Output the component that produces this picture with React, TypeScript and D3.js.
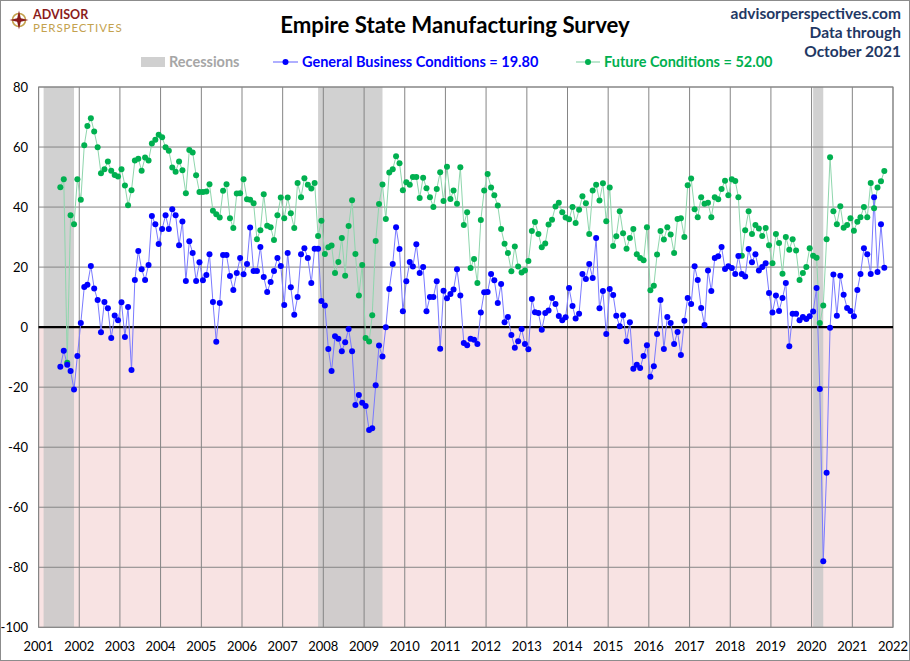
import React from 'react';
import * as d3 from 'd3';

// first observation: July 2001, monthly through October 2021
const firstMonth = new Date(2001, 6, 15);

// General Business Conditions (one row per year, 2001 starts in July)
const general: number[] = [
  -13.2, -7.9, -12.5, -14.6, -20.8, -9.6,
  1.4, 13.4, 14.1, 20.4, 12.9, 9.0, -1.7, 8.4, 6.3, -3.6, 3.9, 2.3,
  8.3, -3.3, 6.7, -14.3, 15.7, 25.4, 19.3, 15.7, 20.7, 37.0, 34.3, 27.7,
  32.7, 37.3, 32.7, 39.3, 37.3, 27.3, 35.2, 15.4, 28.6, 24.7, 15.4, 21.6,
  15.6, 17.4, 24.3, 8.4, -4.9, 8.0, 24.0, 24.0, 17.0, 12.4, 18.0, 23.0,
  17.6, 21.0, 33.2, 18.7, 18.7, 26.7, 16.7, 11.7, 15.0, 18.7, 23.0, 20.4,
  7.4, 24.7, 13.3, 4.1, 10.0, 24.3, 26.3, 23.0, 14.7, 26.1, 26.1, 8.7,
  7.2, -7.3, -14.6, -3.0, -3.9, -8.0, -5.0, -0.6, -8.0, -25.9, -22.6, -25.2,
  -26.3, -34.3, -33.7, -19.4, -6.1, -9.8, 0.0, 12.7, 21.0, 33.3, 26.0, 5.3,
  15.3, 21.7, 20.2, 27.6, 18.0, 20.0, 5.3, 10.0, 10.0, 15.3, -7.2, 12.1,
  9.6, 11.0, 12.5, 19.3, 10.5, -5.3, -6.0, -3.9, -4.2, -5.6, 4.9, 11.6,
  11.7, 17.7, 15.6, 8.0, 14.4, 1.6, 3.4, -2.6, -6.9, -4.7, -0.6, -5.6,
  -7.4, 9.4, 5.0, 4.7, -0.9, 4.7, 5.5, 9.7, 7.7, 3.7, 2.3, 3.3,
  13.0, 7.0, 2.9, 4.5, 17.7, 16.0, 21.0, 16.4, 29.7, 6.3, 12.0, -2.3,
  12.7, 10.7, 3.8, 0.3, 4.0, -4.7, 1.6, -13.9, -12.5, -13.6, -9.6, -6.0,
  -16.5, -13.0, -2.3, 9.0, -7.3, 3.4, 1.4, -5.6, -1.6, -9.3, 2.1, 9.7,
  7.7, 20.3, 15.7, 6.4, 0.7, 18.9, 12.0, 23.0, 23.6, 26.7, 19.4, 20.3,
  19.7, 17.7, 23.7, 17.7, 16.9, 26.0, 21.6, 24.3, 18.9, 20.0, 21.3, 11.4,
  4.9, 10.5, 5.4, 9.7, 14.7, -6.4, 4.5, 4.5, 2.3, 3.4, 2.7, 3.6,
  5.2, 13.0, -20.6, -78.0, -48.5, -0.2, 17.5, 3.8, 17.1, 10.8, 6.4, 5.4,
  3.6, 12.4, 17.7, 26.3, 24.3, 17.7, 43.3, 18.4, 34.3, 19.8,
];

// Future Conditions
const future: number[] = [
  46.6, 49.3, -11.9, 37.3, 34.3, 49.3,
  42.4, 60.6, 67.0, 69.6, 65.2, 59.9, 51.3, 52.6, 55.2, 52.1, 50.7, 50.2,
  52.6, 47.2, 40.6, 45.6, 55.5, 56.1, 52.1, 56.5, 55.5, 61.2, 62.4, 64.1,
  63.3, 59.9, 58.8, 53.2, 51.8, 55.2, 52.3, 44.6, 59.0, 58.2, 50.6, 45.0,
  45.0, 45.2, 47.6, 38.8, 37.6, 36.5, 45.4, 47.6, 36.3, 33.0, 44.5, 44.6,
  49.3, 42.6, 42.4, 41.3, 29.3, 32.3, 44.3, 33.8, 33.3, 29.0, 37.3, 43.2,
  36.3, 43.2, 37.9, 33.0, 48.0, 43.3, 49.6, 47.4, 46.2, 48.0, 30.4, 35.4,
  24.4, 26.6, 27.2, 18.0, 21.7, 29.7, 17.1, 33.7, 42.3, 24.4, 10.5, 20.7,
  -3.6, -4.8, 4.0, 28.7, 41.0, 47.5, 36.0, 51.5, 52.6, 56.9, 54.6, 45.6,
  48.3, 47.4, 50.0, 50.0, 43.0, 49.8, 46.3, 43.3, 40.0, 46.0, 51.6, 42.0,
  53.4, 42.7, 45.5, 41.1, 53.3, 34.0, 38.3, 19.7, 22.7, 14.7, 35.7, 45.5,
  51.0, 46.5, 43.9, 40.5, 32.7, 27.8, 24.7, 18.6, 26.9, 20.2, 18.2, 18.9,
  22.0, 32.0, 35.0, 31.0, 26.6, 27.9, 34.2, 35.8, 40.2, 41.4, 38.3, 36.5,
  35.9, 40.0, 34.7, 39.1, 43.6, 41.3, 31.0, 45.5, 47.4, 42.2, 47.9, 35.3,
  46.5, 27.0, 30.3, 38.6, 31.3, 26.1, 29.7, 32.7, 24.3, 23.0, 22.3, 33.3,
  12.3, 13.8, 24.2, 32.0, 29.2, 33.3, 30.9, 24.7, 36.0, 36.3, 30.0, 47.3,
  49.5, 39.3, 36.6, 43.3, 41.1, 41.4, 36.6, 43.3, 42.6, 46.0, 48.8, 43.9,
  49.3, 48.7, 43.3, 23.8, 32.3, 38.6, 31.0, 34.0, 32.9, 30.4, 33.0, 27.3,
  21.3, 31.0, 28.0, 17.8, 30.0, 25.8, 29.3, 25.5, 15.7, 18.0, 20.0, 26.3,
  23.8, 23.1, 1.4, 7.2, 29.3, 56.6, 38.6, 34.3, 40.3, 33.1, 34.0, 36.3,
  32.1, 35.1, 36.6, 40.0, 36.6, 48.0, 39.6, 46.5, 48.6, 52.0,
];

const recessions: [string, string][] = [
  ['2001-02-15', '2001-11-15'],
  ['2007-11-15', '2009-06-15'],
  ['2020-01-15', '2020-04-15'],
];

const yearTicks = d3.range(2001, 2023);
const valueTicks = d3.range(-100, 81, 20);

const W = 910;
const H = 661;
const plot = { left: 38.6, right: 893, top: 87, bottom: 627.3 };
const font = "Lato, 'Liberation Sans', sans-serif";

const blue = '#0000ff';
const blueLine = '#7a7aff';
const green = '#00b050';
const greenLine = '#8fd6ad';
const navy = '#1f3864';

export default function App() {
  const x = d3.scaleTime()
    .domain([new Date(2001, 0, 1), new Date(2022, 0, 1)])
    .range([plot.left, plot.right]);
  const y = d3.scaleLinear().domain([-100, 80]).range([plot.bottom, plot.top]);

  const dates = general.map((_, i) => d3.timeMonth.offset(firstMonth, i));
  const line = d3.line<number>()
    .x((_, i) => x(dates[i]))
    .y(d => y(d));

  const lastGen = general[general.length - 1].toFixed(2);
  const lastFut = future[future.length - 1].toFixed(2);

  return (
    <div>
      <style>{'body{margin:0}'}</style>
      <svg width={W} height={H} style={{ display: 'block', fontFamily: font }}>
        <rect x={0} y={0} width={W} height={H} fill="#fff" />

        {/* negative zone */}
        <rect x={plot.left} y={y(0)} width={plot.right - plot.left} height={plot.bottom - y(0)} fill="#f8e3e3" />

        {/* recession bands */}
        {recessions.map(([a, b]) => (
          <rect
            key={a}
            x={x(new Date(a))}
            y={plot.top}
            width={x(new Date(b)) - x(new Date(a))}
            height={plot.bottom - plot.top}
            fill="#c6c6c6"
            opacity={0.8}
          />
        ))}

        {/* grid */}
        {yearTicks.map(yr => (
          <line key={`gx-${yr}`} x1={x(new Date(yr, 0, 1))} x2={x(new Date(yr, 0, 1))}
            y1={plot.top} y2={plot.bottom} stroke="#858585" strokeWidth={1} />
        ))}
        {valueTicks.map(v => (
          <line key={`gy-${v}`} x1={plot.left} x2={plot.right} y1={y(v)} y2={y(v)}
            stroke="#858585" strokeWidth={1} />
        ))}
        <rect x={plot.left} y={plot.top} width={plot.right - plot.left} height={plot.bottom - plot.top}
          fill="none" stroke="#858585" />
        <line x1={plot.left} x2={plot.right} y1={y(0)} y2={y(0)} stroke="#000" strokeWidth={2.2} />

        {/* series */}
        <path d={line(future) ?? ''} fill="none" stroke={greenLine} strokeWidth={1} />
        <path d={line(general) ?? ''} fill="none" stroke={blueLine} strokeWidth={1} />
        {future.map((v, i) => (
          <circle key={`f-${i}`} cx={x(dates[i])} cy={y(v)} r={3} fill={green} />
        ))}
        {general.map((v, i) => (
          <circle key={`g-${i}`} cx={x(dates[i])} cy={y(v)} r={3} fill={blue} />
        ))}

        {/* axes labels */}
        {valueTicks.map(v => (
          <text key={`ty-${v}`} x={28} y={y(v)} dy="0.35em" textAnchor="end" fontSize={13} fill="#000">{v}</text>
        ))}
        {yearTicks.map(yr => (
          <text key={`tx-${yr}`} x={x(new Date(yr, 0, 1))} y={651} textAnchor="middle" fontSize={13} fill="#000">{yr}</text>
        ))}

        {/* title & header */}
        <text x={455} y={33} textAnchor="middle" fontSize={22.2} fontWeight="bold" fill="#000">
          Empire State Manufacturing Survey
        </text>
        <text x={901} y={19} textAnchor="end" fontSize={15.5} fontWeight="bold" fill={navy}>advisorperspectives.com</text>
        <text x={901} y={38} textAnchor="end" fontSize={15.5} fontWeight="bold" fill={navy}>Data through</text>
        <text x={901} y={57} textAnchor="end" fontSize={15.5} fontWeight="bold" fill={navy}>October 2021</text>

        {/* logo */}
        <g>
          <circle cx={19} cy={20} r={6.5} fill="none" stroke="#c4a24e" strokeWidth={1.6} />
          <path d="M19,10.5 L20.8,18.2 L28.5,20 L20.8,21.8 L19,29.5 L17.2,21.8 L9.5,20 L17.2,18.2 Z" fill="#8b1c1c" />
          <circle cx={19} cy={20} r={2.2} fill="#8b1c1c" />
          <text x={33} y={19} fontSize={12.5} fontWeight="bold" fill="#8b1c1c">ADVISOR</text>
          <text x={33} y={31.5} fontSize={11.5} fill="#c4a24e" letterSpacing={0.9}>PERSPECTIVES</text>
        </g>

        {/* legend */}
        <rect x={141} y={57} width={24} height={10} fill="#d0d0d0" />
        <text x={169} y={67} fontSize={14.5} fontWeight="bold" fill="#a6a6a6">Recessions</text>

        <line x1={273} x2={298} y1={62} y2={62} stroke={blueLine} strokeWidth={1.2} />
        <circle cx={285.5} cy={62} r={3} fill={blue} />
        <text x={302} y={67} fontSize={14.5} fontWeight="bold" fill={blue}>
          {`General Business Conditions = ${lastGen}`}
        </text>

        <line x1={576} x2={600} y1={62} y2={62} stroke={greenLine} strokeWidth={1.2} />
        <circle cx={588} cy={62} r={3} fill={green} />
        <text x={604} y={67} fontSize={14.5} fontWeight="bold" fill={green}>
          {`Future Conditions = ${lastFut}`}
        </text>

        {/* outer frame */}
        <rect x={0.5} y={0.5} width={W - 1} height={H - 1} fill="none" stroke="#8c8c8c" />
      </svg>
    </div>
  );
}
